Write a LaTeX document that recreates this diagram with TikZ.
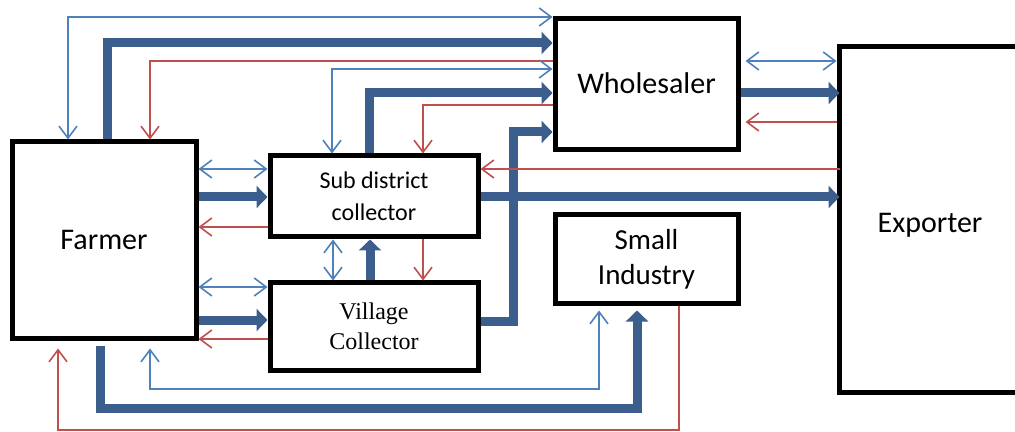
\documentclass[tikz,border=0pt]{standalone}
\usepackage{fontspec}
\setmainfont{Carlito}
\newfontfamily\timesfont{Liberation Serif}
\usetikzlibrary{arrows.meta,calc}
\definecolor{goods}{RGB}{59,94,140}
\definecolor{info}{RGB}{79,129,189}
\definecolor{money}{RGB}{192,80,77}
\tikzset{
    Block/.style={draw, line width=2.5pt, rectangle, inner sep=0pt, align=center, font=\fontsize{15}{17.5}\selectfont},
    FlowGoods/.style={goods, line width=4.5pt, -{Triangle[length=5.5pt,width=11pt]}},
    FlowInfo/.style={info, line width=0.8pt, {Straight Barb[length=6pt,width=9pt]}-{Straight Barb[length=6pt,width=9pt]}},
    FlowMoney/.style={money, line width=0.8pt, -{Straight Barb[length=6pt,width=9pt]}}
    }
\begin{document}
\begin{tikzpicture}[x=0.5pt,y=-0.5pt]
\useasboundingbox (0,0) rectangle (1015,432);

\node[Block, minimum width=92pt, minimum height=98pt] (Farmer) at (104,240) {Farmer};
\node[Block, minimum width=104pt, minimum height=40.5pt, font=\fontsize{12}{16}\selectfont] (SubDist) at (374,196.5) {Sub district\\collector};
\node[Block, minimum width=104pt, minimum height=43.5pt, font=\timesfont\fontsize{12}{15}\selectfont] (Village) at (374,326.5) {Village\\Collector};
\node[Block, minimum width=91.5pt, minimum height=65.5pt] (Whole) at (646.5,84.5) {\raisebox{1.5pt}{Wholesaler}};
\node[Block, minimum width=91.5pt, minimum height=44pt, font=\fontsize{14.5}{17.5}\selectfont] (SmallInd) at (646.5,259) {Small\\Industry};
% exporter runs off the right edge, so no right side
\node[Block, draw=none, minimum width=110pt, minimum height=170.5pt, label={[font=\fontsize{15}{17.5}\selectfont, xshift=-11pt, yshift=-3pt]center:Exporter}] (Exporter) at (952,219.5) {};
\draw[line width=2.5pt] (Exporter.north east) -- (Exporter.north west) -- (Exporter.south west) -- (Exporter.south east);

% farmer -- wholesaler
\draw[FlowInfo] (68,0 |- Farmer.north) |- (Whole.west |- 0,17);
\draw[FlowGoods] (107,0 |- Farmer.north) |- (Whole.west |- 0,43);
\draw[FlowMoney] (Whole.west |- 0,61) -| (150,0 |- Farmer.north);

% sub district -- wholesaler
\draw[FlowInfo] (332,0 |- SubDist.north) |- (Whole.west |- 0,69);
\draw[FlowGoods] (369,0 |- SubDist.north) |- (Whole.west |- 0,93);
\draw[FlowMoney] (Whole.west |- 0,105) -| (423,0 |- SubDist.north);

% village -- wholesaler
\draw[FlowGoods] (Village.east |- 0,321) -| (513,132) -- (Whole.west |- 0,132);

% wholesaler -- exporter
\draw[FlowInfo, shorten <=2.5pt, shorten >=1.5pt] (Whole.east |- 0,61) -- (Exporter.west |- 0,61);
\draw[FlowGoods] (Whole.east |- 0,93) -- (Exporter.west |- 0,93);
\draw[FlowMoney, shorten <=1.5pt, shorten >=2.5pt] (Exporter.west |- 0,122) -- (Whole.east |- 0,122);

% sub district -- exporter
\draw[FlowMoney] (Exporter.west |- 0,169) -- (SubDist.east |- 0,169);
\draw[FlowGoods] (SubDist.east |- 0,197) -- (Exporter.west |- 0,197);

% farmer -- sub district
\draw[FlowInfo] (Farmer.east |- 0,169) -- (SubDist.west |- 0,169);
\draw[FlowGoods] (Farmer.east |- 0,197) -- (SubDist.west |- 0,197);
\draw[FlowMoney] (SubDist.west |- 0,227) -- (Farmer.east |- 0,227);

% farmer -- village
\draw[FlowInfo] (Farmer.east |- 0,287) -- (Village.west |- 0,287);
\draw[FlowGoods] (Farmer.east |- 0,320) -- (Village.west |- 0,320);
\draw[FlowMoney] (Village.west |- 0,339) -- (Farmer.east |- 0,339);

% village -- sub district
\draw[FlowInfo] (333,0 |- SubDist.south) -- (333,0 |- Village.north);
\draw[FlowGoods] (370,0 |- Village.north) -- (370,0 |- SubDist.south);
\draw[FlowMoney] (423,0 |- SubDist.south) -- (423,0 |- Village.north);

% farmer -- small industry
\draw[FlowMoney, shorten >=4pt] (679,0 |- SmallInd.south) |- (58,430) -- (58,0 |- Farmer.south);
\draw[FlowInfo, shorten <=4pt, shorten >=2.5pt] (150,0 |- Farmer.south) |- (599,389) -- (599,0 |- SmallInd.south);
\draw[FlowGoods, shorten <=2.5pt, shorten >=2.5pt] (100,0 |- Farmer.south) |- (637,408) -- (637,0 |- SmallInd.south);

\end{tikzpicture}
\end{document}
